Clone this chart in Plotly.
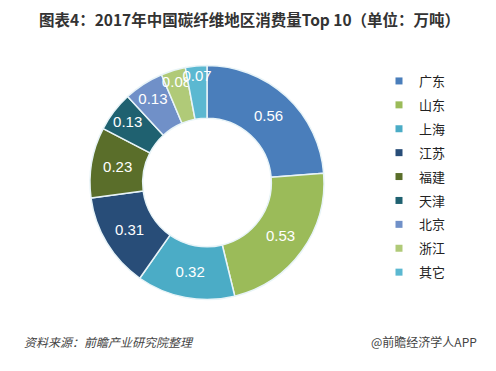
import plotly.graph_objects as go

regions = ["广东", "山东", "上海", "江苏", "福建", "天津", "北京", "浙江", "其它"]
values = [0.56, 0.53, 0.32, 0.31, 0.23, 0.13, 0.13, 0.08, 0.07]
colors = ["#4A7EBB", "#9BBB59", "#4BACC6", "#284D78", "#5A6E2A",
          "#1F6170", "#7090C8", "#B0CA78", "#5BB8D1"]

title_text = "图表4：2017年中国碳纤维地区消费量Top 10（单位：万吨）"
source_text = "资料来源：前瞻产业研究院整理"
brand_text = "@前瞻经济学人APP"

W, H = 496, 371
cx, cy, r = 207, 182.5, 117

fig = go.Figure()
fig.add_trace(go.Pie(
    labels=regions, values=values, sort=False, direction="clockwise", rotation=0,
    hole=0.55,
    marker=dict(colors=colors, line=dict(color="#E8F4F8", width=1.5)),
    textinfo="value", texttemplate="%{value:.2f}",
    textposition="inside", insidetextorientation="horizontal",
    textfont=dict(color="white", size=15, family="Arial, Liberation Sans"),
    showlegend=False, hoverinfo="label+value",
    domain=dict(x=[(cx - r) / W, (cx + r) / W], y=[(H - cy - r) / H, (H - cy + r) / H]),
))

for i, (name, c) in enumerate(zip(regions, colors)):
    fig.add_trace(go.Scatter(
        x=[None], y=[None], mode="markers", name=name, legendgroup=f"g{i}",
        marker=dict(symbol="square", size=7, color=c),
    ))

fig.update_layout(
    width=W, height=H,
    margin=dict(l=0, r=0, t=0, b=0),
    paper_bgcolor="white", plot_bgcolor="white",
    xaxis=dict(visible=False), yaxis=dict(visible=False),
    uniformtext=dict(minsize=15, mode="show"),
    legend=dict(x=379 / W, y=1 - 66 / H, xanchor="left", yanchor="top",
                font=dict(size=13, color="#222", family="Noto Sans CJK SC"),
                tracegroupgap=4, itemwidth=30, bgcolor="rgba(0,0,0,0)"),
    annotations=[
        dict(text=f"<b>{title_text}</b>", x=249 / W, y=1 - 19 / H, xref="paper", yref="paper",
             showarrow=False, xanchor="center", yanchor="middle",
             font=dict(size=15.5, color="#333", family="Noto Sans CJK SC")),
        dict(text=f"<i>{source_text}</i>", x=22 / W, y=1 - 341 / H, xref="paper", yref="paper",
             showarrow=False, xanchor="left", yanchor="middle",
             font=dict(size=12, color="#444", family="Noto Sans CJK SC")),
        dict(text=brand_text, x=479 / W, y=1 - 341 / H, xref="paper", yref="paper",
             showarrow=False, xanchor="right", yanchor="middle",
             font=dict(size=12, color="#444", family="Noto Sans CJK SC")),
    ],
)

fig.write_html("out.html", config={"displayModeBar": False},
               post_script="document.body.style.margin='0';")
